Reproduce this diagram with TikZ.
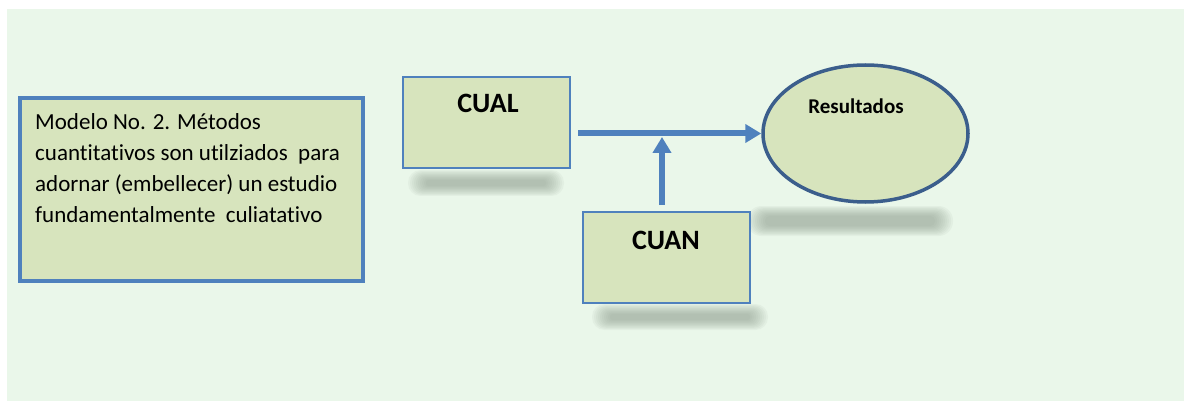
\documentclass[tikz,border=0pt]{standalone}
\usepackage{fontspec}
\setmainfont[Ligatures=NoCommon]{Carlito}
\usetikzlibrary{arrows.meta}
\usetikzlibrary{shapes.geometric}
\definecolor{fondo}{HTML}{EAF7EA}
\definecolor{relleno}{HTML}{D7E4BD}
\definecolor{borde}{HTML}{4F81BD}
\definecolor{bordeosc}{HTML}{3B5E8C}
\definecolor{flecha}{HTML}{4F81BD}
\definecolor{sombragris}{HTML}{8A988A}
\newcommand{\sombra}[4]{
	\foreach \k in {0,...,9}{
		\pgfmathsetmacro{\rad}{max(#4-\k*1.1-0.5,0.5)}
		\fill [sombragris,opacity=.075,rounded corners=\rad pt] (#1-#3+\k*2 ,#2-#4+\k*1.1) rectangle (#1+#3-\k*2 ,#2+#4-\k*1.1);
	}
}
\tikzset{
	caja/.style={draw=borde,fill=relleno,rectangle,line width=2pt,inner sep=0},
	etiqueta/.style={anchor=base,font=\fontsize{28}{32}\selectfont\bfseries},
	conector/.style={draw=flecha,line width=6pt,-{Triangle[length=16pt,width=18pt]}}
}

\begin{document}
\begin{tikzpicture}[x=1pt,y=-1pt]
\useasboundingbox (0 ,0) rectangle (1184 ,401);
\fill [fondo] (7 ,9) rectangle (1184 ,401);
\sombra{486}{183}{78}{13}
\sombra{850}{221}{103}{15}
\sombra{680}{317}{88}{13}

\node [caja,line width=3.5pt,minimum width=343pt,minimum height=183pt] (modelo) at (191.5 ,189.5) {};
\node [anchor=north west,inner sep=0,align=left,font=\fontsize{23}{31}\selectfont] (modelotxt) at (35 ,113) {
	Modelo No. 2. Métodos\\
	cuantitativos son utilziados\ \ para\\
	adornar (embellecer) un estudio\\
	fundamentalmente\ \ culiatativo
};

\node [caja,minimum width=167pt,minimum height=91pt] (cual) at (486.5 ,122.5) {};
\node [etiqueta] (cualtxt) at (488 ,113) {CUAL};
\node [caja,minimum width=167pt,minimum height=91pt] (cuan) at (666.5 ,257.5) {};
\node [etiqueta] (cuantxt) at (666 ,249) {CUAN};
\node [ellipse,draw=bordeosc,fill=relleno,line width=3.5pt,inner sep=0,minimum width=205pt,minimum height=137pt] (resultados) at (865.5 ,133.5) {};
\node [anchor=base,font=\fontsize{21}{24}\selectfont\bfseries] (resultadostxt) at (856 ,114) {Resultados};

\coordinate (junta) at (662 ,134);
\draw [conector,shorten <=7pt] (cual.east |- resultados.west) -- (resultados.west);
\draw [conector,shorten <=6pt,shorten >=3pt] (cuan.north -| junta) -- (junta);
\end{tikzpicture}
\end{document}
